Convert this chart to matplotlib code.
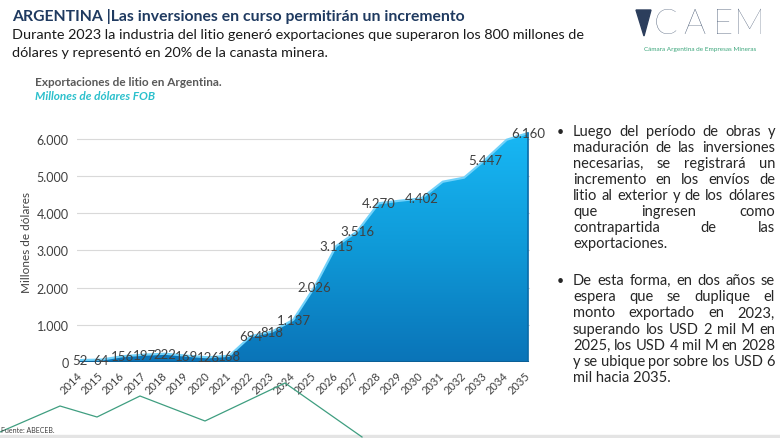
import numpy as np
import matplotlib.pyplot as plt
from matplotlib.colors import LinearSegmentedColormap
from matplotlib.patches import PathPatch, Polygon, Rectangle
from matplotlib.lines import Line2D

plt.rcParams['font.family'] = ['Lato', 'DejaVu Sans']

W, H = 780, 439

# datos: exportaciones de litio, millones de USD FOB
years = [str(y) for y in range(2014, 2036)]
exports = [52, 64, 156, 197, 222, 169, 126, 168, 694, 818, 1137, 2026, 3115,
           3516, 4270, 4340, 4402, 4850, 4960, 5447, 5980, 6160]
show_label = [True] * 15 + [False, True, False, False, True, False, True]
yticks = [0, 1000, 2000, 3000, 4000, 5000, 6000]

bullet1 = ["Luego del período de obras y",
           "maduración de las inversiones",
           "necesarias, se registrará un",
           "incremento en los envíos de",
           "litio al exterior y de los dólares",
           "que ingresen como",
           "contrapartida de las",
           "exportaciones."]
bullet2 = ["De esta forma, en dos años se",
           "espera que se duplique el",
           "monto exportado en 2023,",
           "superando los USD 2 mil M en",
           "2025, los USD 4 mil M en 2028",
           "y se ubique por sobre los USD 6",
           "mil hacia 2035."]


def fmt(v):
    return '{:,}'.format(v).replace(',', '.')


def fx(px):
    return px / W


def fy(py):
    return 1 - py / H


def justified(fig, lines, x0, x1, y0, step, size, color):
    r = fig.canvas.get_renderer()
    for i, line in enumerate(lines):
        y = fy(y0 + i * step)
        words = line.split()
        if i == len(lines) - 1 or len(words) == 1:
            fig.text(fx(x0), y, line, fontsize=size, color=color, va='center')
            continue
        ts = [fig.text(0, y, w, fontsize=size, color=color, va='center') for w in words]
        widths = [t.get_window_extent(r).width for t in ts]
        gap = (x1 - x0 - sum(widths)) / (len(words) - 1)
        pos = x0
        for t, w in zip(ts, widths):
            t.set_x(fx(pos))
            pos += w + gap


fig = plt.figure(figsize=(W / 100, H / 100), dpi=100)
fig.patch.set_facecolor('white')

# encabezado
fig.text(fx(12), fy(16), 'ARGENTINA |Las inversiones en curso permitirán un incremento',
         fontsize=11.3, fontweight='bold', color='#1f3a60', va='center')
fig.text(fx(12), fy(35), 'Durante 2023 la industria del litio generó exportaciones que superaron los 800 millones de',
         fontsize=10.4, color='#1a1a1a', va='center')
fig.text(fx(12), fy(53), 'dólares y representó en 20% de la canasta minera.',
         fontsize=10.4, color='#1a1a1a', va='center')

# logo CAEM
fig.add_artist(Polygon([[fx(636), fy(11)], [fx(651), fy(11)], [fx(644), fy(37)]],
                       closed=True, transform=fig.transFigure, color='#2c3e5c'))
for ch, cx in zip('CAEM', [665, 694, 723, 750]):
    fig.text(fx(cx), fy(24), ch, fontsize=25, fontweight='light', color='#3d4f6b',
             va='center', ha='center')
fig.text(fx(700), fy(50), 'Cámara Argentina de Empresas Mineras', fontsize=4.6,
         color='#3aa57a', va='center', ha='center')

# titulos del grafico
fig.text(fx(35), fy(82), 'Exportaciones de litio en Argentina.', fontsize=8.5,
         fontweight='bold', color='#595959', va='center')
fig.text(fx(35), fy(97), 'Millones de dólares FOB', fontsize=8.5, fontweight='bold',
         fontstyle='italic', color='#2cc0cc', va='center')

ax = fig.add_axes([fx(77), fy(363), (530 - 77) / W, (363 - 121.4) / H])
x = np.arange(len(years))

fill = ax.fill_between(x, exports, 0, color='none', lw=0)
patch = PathPatch(fill.get_paths()[0], transform=ax.transData, facecolor='none', edgecolor='none')
ax.add_patch(patch)
cmap = LinearSegmentedColormap.from_list('azul', ['#0a74b8', '#0f9ad8', '#18b8f5'])
grad = np.linspace(0, 1, 256).reshape(-1, 1)
im = ax.imshow(grad, extent=[0, 21, 0, 6200], origin='lower', aspect='auto',
               cmap=cmap, zorder=2)
im.set_clip_path(patch)
ax.plot(x, exports, color='#72d2fa', lw=1.6, zorder=3, solid_capstyle='butt')
ax.plot([21, 21], [0, exports[-1]], color='#0a6ba8', lw=1.2, zorder=3)
ax.plot([0, 21], [0, 0], color='#0a5f96', lw=1.5, zorder=3)

for xi, v, s in zip(x, exports, show_label):
    if s:
        ax.text(xi, v, fmt(v), ha='center', va='center', fontsize=9.5,
                color='#404040', zorder=4)

ax.set_xlim(-0.14, 21.09)
ax.set_ylim(0, 6500)
ax.set_yticks(yticks, [fmt(v) for v in yticks])
ax.set_xticks(x, years)
for lab in ax.get_xticklabels():
    lab.set_rotation(45)
    lab.set_ha('right')
    lab.set_va('center')
    lab.set_rotation_mode('anchor')
ax.tick_params(axis='x', labelsize=8, colors='#404040', length=0, pad=8)
ax.tick_params(axis='y', labelsize=9, colors='#404040', length=0, pad=6)
ax.grid(axis='y', color='#d9d9d9', lw=0.8)
ax.set_axisbelow(True)
for sp in ax.spines.values():
    sp.set_visible(False)
ax.set_ylabel('Millones de dólares', fontsize=8.5, color='#404040', labelpad=3)

# texto a la derecha
justified(fig, bullet1, 573, 775, 132, 16.0, 10.5, '#262626')
justified(fig, bullet2, 573, 775, 281, 16.2, 10.5, '#262626')
fig.text(fx(557), fy(132), '•', fontsize=9, color='#262626', va='center')
fig.text(fx(557), fy(281), '•', fontsize=9, color='#262626', va='center')

# decoracion de la diapositiva
zx = [0, 60, 97, 140, 205, 285, 362]
zy = [433, 407, 418, 397, 422, 384, 438]
fig.add_artist(Line2D([fx(v) for v in zx], [fy(v) for v in zy], transform=fig.transFigure,
                      color='#3f9e80', lw=0.9))
fig.add_artist(Rectangle((0, 0), 1, fy(436), transform=fig.transFigure,
                         color='#e4e4e4', zorder=0))
fig.text(fx(1), fy(431), 'Fuente: ABECEB.', fontsize=5, color='#404040', va='center')

fig.savefig('out.png', dpi=100)
